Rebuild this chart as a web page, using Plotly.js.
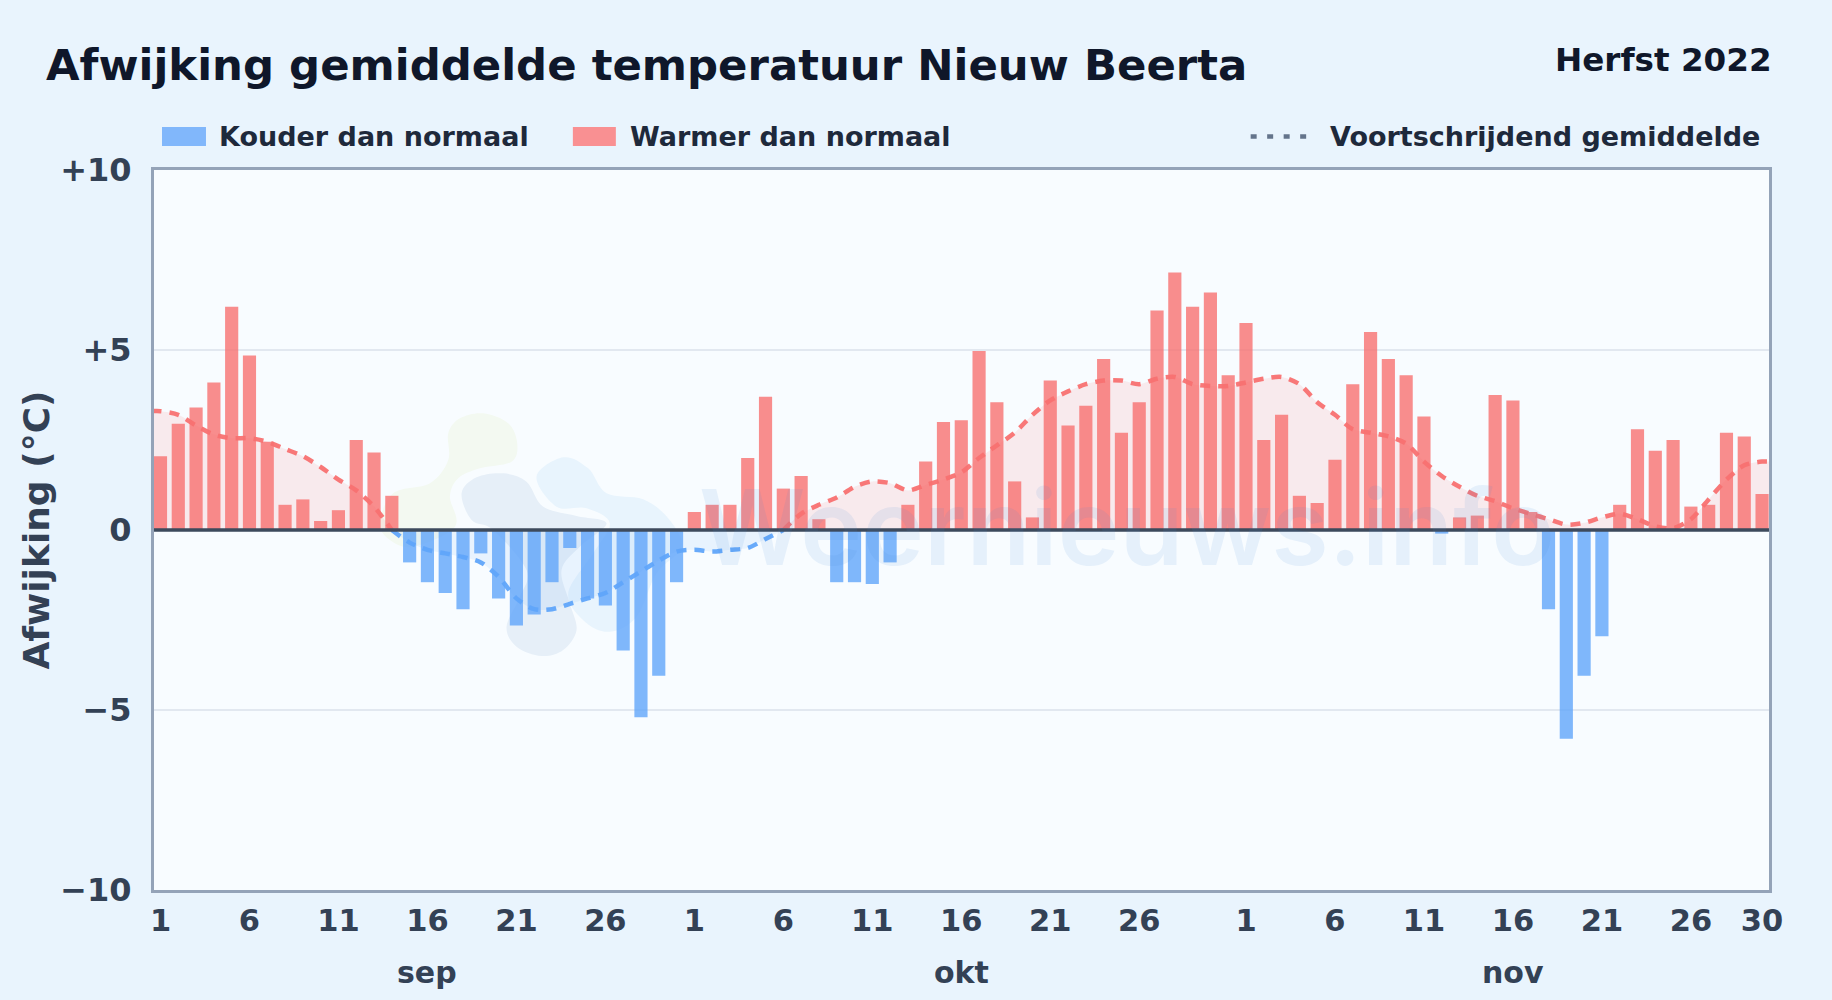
<!DOCTYPE html>
<html>
<head>
<meta charset="utf-8">
<script src="https://cdn.plot.ly/plotly-3.0.1.min.js"></script>
<style>html,body{margin:0;padding:0;background:#e9f4fd;}#chart{width:1832px;height:1000px;}</style>
</head>
<body>
<div id="chart"></div>
<script>
// Daily deviation from normal (°C): 1 Sep .. 30 Nov 2022
const sepValues = [2.05,2.95,3.4,4.1,6.2,4.85,2.45,0.7,0.85,0.25,0.55,2.5,2.15,0.95,-0.9,-1.45,-1.75,-2.2,-0.65,-1.9,-2.65,-2.35,-1.45,-0.5,-1.9,-2.1,-3.35,-5.2,-4.05,-1.45];
const oktValues = [0.5,0.7,0.7,2.0,3.7,1.15,1.5,0.3,-1.45,-1.45,-1.5,-0.9,0.7,1.9,3.0,3.05,4.97,3.55,1.35,0.35,4.15,2.9,3.45,4.75,2.7,3.55,6.1,7.15,6.2,6.6,4.3];
const novValues = [5.75,2.5,3.2,0.95,0.75,1.95,4.05,5.5,4.75,4.3,3.15,-0.1,0.35,0.4,3.75,3.6,0.5,-2.2,-5.8,-4.05,-2.95,0.7,2.8,2.2,2.5,0.65,0.7,2.7,2.6,1.0];
// Running mean, same days
const sepMean = [3.3,3.2,2.9,2.65,2.55,2.55,2.45,2.25,2.05,1.75,1.4,1.1,0.65,0,-0.35,-0.55,-0.65,-0.75,-0.9,-1.3,-1.9,-2.2,-2.2,-2.05,-1.9,-1.75,-1.45,-1.15,-0.85,-0.6];
const oktMean = [-0.55,-0.6,-0.55,-0.5,-0.25,0,0.45,0.7,0.9,1.2,1.35,1.3,1.1,1.25,1.4,1.6,2.0,2.35,2.7,3.2,3.6,3.85,4.05,4.15,4.15,4.05,4.2,4.25,4.05,4.0,4.0];
const novMean = [4.1,4.2,4.25,4.05,3.55,3.2,2.8,2.7,2.6,2.4,1.9,1.5,1.2,0.95,0.8,0.6,0.45,0.3,0.15,0.2,0.35,0.45,0.3,0.1,0.05,0.3,0.85,1.4,1.8,1.9];

const tickPositions = [0,5,10,15,20,25,30,35,40,45,50,55,61,66,71,76,81,86,90];
const tickLabels = ['1','6','11','16','21','26','1','6','11','16','21','26','1','6','11','16','21','26','30'];
const monthNames = ['sep','okt','nov'];
const monthCentres = [15,45,76];
const yTicks = [-10,-5,0,5,10];
const yLabels = ['\u221210','\u22125','0','+5','+10'];

const values = sepValues.concat(oktValues, novValues);
const mean = sepMean.concat(oktMean, novMean);
const days = values.map((_, i) => i);
// the running mean runs out to both plot edges
const meanDays = [-0.5].concat(days, [90.5]);
const meanFull = [mean[0]].concat(mean, [mean[mean.length - 1]]);

const warmBars = values.map(v => v > 0 ? v : null);
const coldBars = values.map(v => v < 0 ? v : null);
function side(sign) {
  return meanFull.map((v, i) => {
    const keep = u => u !== undefined && u * sign > 0;
    if (v * sign > 0) return v;
    return keep(meanFull[i - 1]) || keep(meanFull[i + 1]) ? 0 : null;
  });
}
const meanWarm = side(1), meanCold = side(-1);

const FONT = '"DejaVu Sans", sans-serif';
const W = 1832, H = 1000, L = 154, R = 1769.5, T = 170, B = 890;
const px = x => (x - L) / (R - L);
const py = y => (B - y) / (B - T);

function blob(points, fill) {
  const n = points.length, P = i => points[(i + n) % n];
  let d = 'M' + px(P(0)[0]) + ',' + py(P(0)[1]);
  for (let i = 0; i < n; i++) {
    const p0 = P(i - 1), p1 = P(i), p2 = P(i + 1), p3 = P(i + 2);
    const c1 = [p1[0] + (p2[0] - p0[0]) / 6, p1[1] + (p2[1] - p0[1]) / 6];
    const c2 = [p2[0] - (p3[0] - p1[0]) / 6, p2[1] - (p3[1] - p1[1]) / 6];
    d += 'C' + px(c1[0]) + ',' + py(c1[1]) + ' ' + px(c2[0]) + ',' + py(c2[1]) + ' ' + px(p2[0]) + ',' + py(p2[1]);
  }
  return {type: 'path', xref: 'paper', yref: 'paper', path: d + 'Z', fillcolor: fill, line: {width: 0}, layer: 'below'};
}
const zoomed = pts => pts.map(p => [380 + p[0] / 3, 390 + p[1] / 3]);

const shapes = [
  blob(zoomed([[205,130],[240,85],[310,70],[385,100],[412,160],[395,215],[300,235],[235,265],[210,320],[225,410],[100,470],[30,450],[0,400],[40,310],[150,280],[205,210]]), '#f3f9f1'),
  blob(zoomed([[470,260],[550,202],[625,235],[680,310],[790,328],[865,385],[905,470],[830,550],[770,680],[690,725],[615,695],[565,610],[640,490],[690,400],[620,355],[530,350]]), '#e8f4fd'),
  blob(zoomed([[245,310],[290,262],[370,250],[440,275],[490,350],[590,378],[680,400],[600,470],[545,540],[570,640],[590,720],[550,780],[485,798],[410,770],[380,710],[420,620],[440,540],[340,420],[275,390]]), '#e6eff8'),
  {type: 'line', xref: 'paper', yref: 'y', x0: 0, x1: 1, y0: 0, y1: 0, line: {color: '#3d4a5c', width: 3.5}, layer: 'above'},
  {type: 'rect', xref: 'paper', yref: 'paper', x0: px(162), x1: px(206), y0: py(146), y1: py(127), fillcolor: '#81b7fb', line: {width: 0}},
  {type: 'rect', xref: 'paper', yref: 'paper', x0: px(573), x1: px(616), y0: py(146), y1: py(127), fillcolor: '#f99092', line: {width: 0}},
  {type: 'line', xref: 'paper', yref: 'paper', x0: px(1251), x1: px(1308), y0: py(136.6), y1: py(136.6), line: {color: '#64748b', width: 4.5, dash: '6px,10.5px'}}
];

const text = (t, x, y, size, color, anchor, extra) => Object.assign({
  text: t, xref: 'paper', yref: 'paper', x: px(x), y: py(y), xanchor: anchor, yanchor: 'middle',
  showarrow: false, font: {family: FONT, size: size, color: color, weight: 700}
}, extra || {});

const annotations = [
  text('Herfst 2022', 1774.5, 60, 32.6, '#0f172a', 'right'),
  text('Kouder dan normaal', 217, 136.5, 27, '#1e293b', 'left'),
  text('Warmer dan normaal', 628, 136.5, 27, '#1e293b', 'left'),
  text('Voortschrijdend gemiddelde', 1328.5, 136.5, 27, '#1e293b', 'left'),
  text('Weernieuws.info', 697, 527, 104.5, '#60a5fa', 'left', {font: {family: 'Inter, "DejaVu Sans", sans-serif', size: 104.5, color: 'rgba(70,140,220,0.10)', weight: 600}})
].concat(monthNames.map((m, i) => ({
  text: m, xref: 'x', yref: 'paper', x: monthCentres[i], y: py(972), xanchor: 'center', yanchor: 'middle',
  showarrow: false, font: {family: FONT, size: 30, color: '#334155', weight: 700}
})));

const spline = {shape: 'spline', smoothing: 0.8};
const traces = [
  {type: 'scatter', mode: 'none', x: meanDays, y: meanWarm, fill: 'tozeroy', fillcolor: 'rgba(248,113,113,0.13)', line: spline, hoverinfo: 'skip', showlegend: false},
  {type: 'scatter', mode: 'none', x: meanDays, y: meanCold, fill: 'tozeroy', fillcolor: 'rgba(96,165,250,0.10)', line: spline, hoverinfo: 'skip', showlegend: false},
  {type: 'bar', name: 'Kouder dan normaal', x: days, y: coldBars, width: 0.74, marker: {color: '#60a5fa', opacity: 0.8, line: {width: 0}}, showlegend: false},
  {type: 'bar', name: 'Warmer dan normaal', x: days, y: warmBars, width: 0.74, marker: {color: '#f87171', opacity: 0.8, line: {width: 0}}, showlegend: false},
  {type: 'scatter', mode: 'lines', name: 'Voortschrijdend gemiddelde', x: meanDays, y: meanWarm, line: Object.assign({color: 'rgba(248,113,113,0.95)', width: 4.5, dash: '10px,8px'}, spline), showlegend: false},
  {type: 'scatter', mode: 'lines', name: 'Voortschrijdend gemiddelde', x: meanDays, y: meanCold, line: Object.assign({color: 'rgba(96,165,250,0.95)', width: 4.5, dash: '10px,8px'}, spline), showlegend: false}
];

const layout = {
  width: W, height: H,
  margin: {l: L, r: W - R, t: T, b: H - B, pad: 0},
  paper_bgcolor: '#e9f4fd', plot_bgcolor: '#f8fcff',
  barmode: 'overlay', showlegend: false,
  font: {family: FONT},
  title: {text: 'Afwijking gemiddelde temperatuur Nieuw Beerta', xref: 'container', yref: 'container', x: 46 / W, y: 1 - 65 / H, xanchor: 'left', yanchor: 'middle', font: {family: FONT, size: 43.4, color: '#0f172a', weight: 700}},
  xaxis: {range: [-0.365, 90.39], tickmode: 'array', tickvals: tickPositions, ticktext: tickLabels, ticks: '', showgrid: false, zeroline: false, showline: true, mirror: true, linecolor: '#94a3b8', linewidth: 3, tickfont: {family: FONT, size: 30.5, color: '#334155', weight: 700}, ticklabelstandoff: 1},
  yaxis: {range: [-10, 10], tickmode: 'array', tickvals: yTicks, ticktext: yLabels, ticks: '', showgrid: true, gridcolor: '#e2e8f0', gridwidth: 2, zeroline: false, showline: true, mirror: true, linecolor: '#94a3b8', linewidth: 3, tickfont: {family: FONT, size: 32, color: '#334155', weight: 700}, ticklabelstandoff: 13,
    title: {text: 'Afwijking (\u00b0C)', standoff: 0, font: {family: FONT, size: 36, color: '#334155', weight: 700}}},
  shapes: shapes, annotations: annotations
};
Plotly.newPlot('chart', traces, layout, {displayModeBar: false, staticPlot: true});
</script>
</body>
</html>
